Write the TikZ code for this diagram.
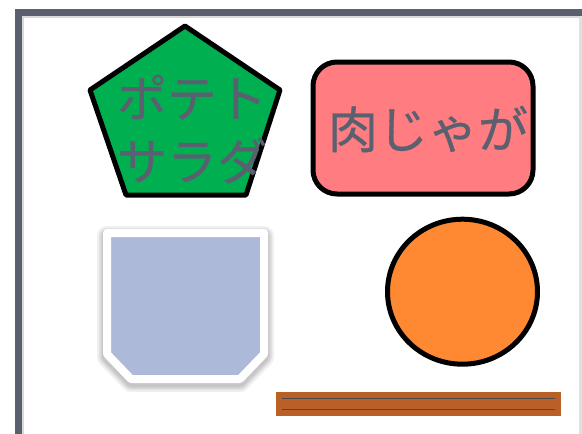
\documentclass[tikz,border=0pt]{standalone}
\usepackage{fontspec}
\newfontfamily\jpfont[FakeBold=0.6]{Noto Sans CJK JP}
\definecolor{framegray}{HTML}{5A6070}
\definecolor{textgray}{HTML}{5A6070}
\definecolor{pentgreen}{HTML}{00B050}
\definecolor{rectpink}{HTML}{FF7C80}
\definecolor{bluefill}{HTML}{ADB9D8}
\definecolor{circorange}{HTML}{FF8833}
\definecolor{barbrown}{HTML}{B96028}
\definecolor{barline}{HTML}{4A4A4A}
\tikzset{
  outlined/.style={draw=black, line width=5pt, line join=round},
  label/.style={text=textgray, font=\jpfont\fontsize{50}{63}\selectfont, align=center, inner sep=0pt},
  softshadow/.style={draw=black, line join=round, opacity=0.06},
}
\begin{document}
\begin{tikzpicture}[x=1pt, y=-1pt]
\useasboundingbox (0,0) rectangle (582,434);
% frame with inner shadow
\fill[white] (0,0) rectangle (582,434);
\draw[black!15, line width=4pt] (22,16) -- (590,16);
\draw[black!15, line width=4pt] (22,16) -- (22,440);
\draw[black!12, line width=3pt] (580,16) -- (580,440);
\draw[framegray, line width=7pt] (18,12) rectangle (590,437.5);
% pentagon
\coordinate (p1) at (185,26);
\coordinate (p2) at (280,90);
\coordinate (p3) at (246,195);
\coordinate (p4) at (126,195);
\coordinate (p5) at (90,90);
\filldraw[outlined, fill=pentgreen] (p1) -- (p2) -- (p3) -- (p4) -- (p5) -- cycle;
\node[label] (potato) at (192,129) {ポテト\\サラダ};
% rounded rectangle
\filldraw[outlined, fill=rectpink, rounded corners=24pt] (313,62) rectangle (533,194);
\node[label] (niku) at (428,129) {肉じゃが};
% blue chamfered shape with soft shadow
\foreach \w in {20,16,13,10} {
  \filldraw[softshadow, line width=\w pt] (107,236) -- (264,236) -- (264,357) -- (240,382) -- (131,382) -- (107,357) -- cycle;
}
\filldraw[draw=white, line width=8pt, line join=round, fill=bluefill] (107,233) -- (264,233) -- (264,354) -- (240,379) -- (131,379) -- (107,354) -- cycle;
% circle
\filldraw[outlined, fill=circorange] (462.5,291.7) ellipse [x radius=75, y radius=72.5];
% brown bar
\fill[barbrown] (276,392.3) rectangle (561,415.7);
\draw[barline, line width=1.5pt] (282,398.3) -- (555,398.3);
\draw[barline, line width=1.5pt] (282,409.7) -- (555,409.7);
\end{tikzpicture}
\end{document}
